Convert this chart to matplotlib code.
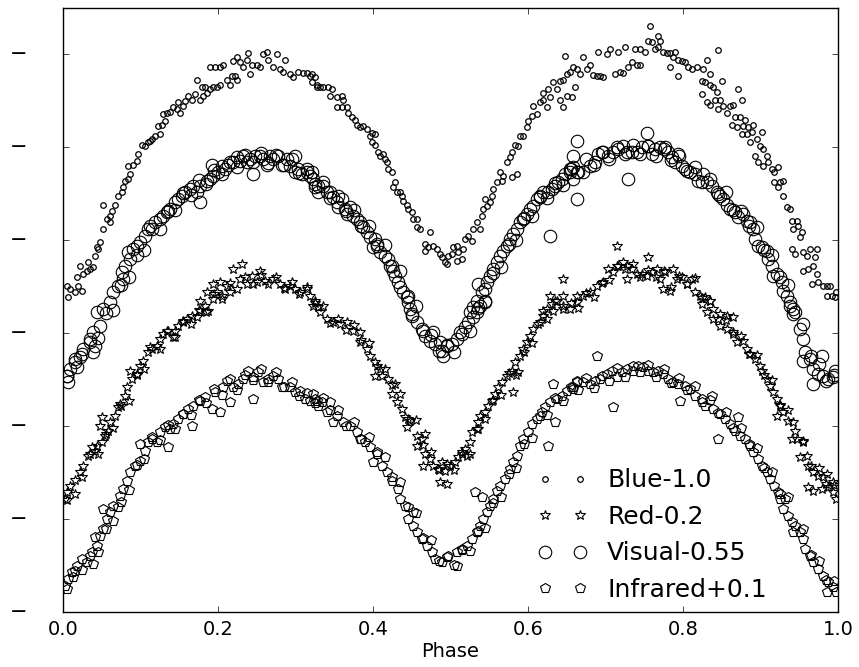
import numpy as np
import matplotlib
matplotlib.use("Agg")
from matplotlib import pyplot as plt
from matplotlib.ticker import FormatStrFormatter

# (phase, shifted magnitude)
blue = [
    (0.005, 0.499), (0.009, 0.505), (0.015, 0.512), (0.019, 0.499), (0.006, 0.522), (0.025, 0.510), (0.018, 0.479), (0.022, 0.456),
    (0.026, 0.473), (0.031, 0.467), (0.035, 0.462), (0.039, 0.458), (0.032, 0.447), (0.041, 0.434), (0.045, 0.419), (0.048, 0.404),
    (0.044, 0.415), (0.052, 0.376), (0.057, 0.355), (0.061, 0.348), (0.063, 0.338), (0.061, 0.361), (0.052, 0.323), (0.067, 0.323),
    (0.071, 0.305), (0.076, 0.297), (0.077, 0.286), (0.080, 0.273), (0.084, 0.269), (0.086, 0.258), (0.084, 0.241), (0.090, 0.237),
    (0.095, 0.230), (0.097, 0.215), (0.102, 0.194), (0.106, 0.198), (0.110, 0.189), (0.112, 0.187), (0.115, 0.183), (0.119, 0.176),
    (0.125, 0.172), (0.123, 0.155), (0.128, 0.151), (0.132, 0.144), (0.129, 0.129), (0.134, 0.125), (0.138, 0.123), (0.142, 0.114),
    (0.147, 0.118), (0.151, 0.125), (0.148, 0.103), (0.155, 0.112), (0.157, 0.101), (0.161, 0.090), (0.166, 0.097), (0.170, 0.086),
    (0.173, 0.054), (0.177, 0.097), (0.181, 0.090), (0.186, 0.082), (0.179, 0.071), (0.183, 0.069), (0.190, 0.075), (0.194, 0.069),
    (0.199, 0.071), (0.203, 0.065), (0.190, 0.028), (0.196, 0.028), (0.203, 0.028), (0.206, 0.022), (0.212, 0.054), (0.215, 0.065),
    (0.218, 0.047), (0.222, 0.047), (0.224, 0.054), (0.219, 0.015), (0.224, 0.006), (0.228, 0.017), (0.232, 0.026), (0.237, 0.011),
    (0.239, -0.004), (0.241, 0.043), (0.244, 0.022), (0.250, 0.022), (0.254, 0.026), (0.258, 0.000), (0.263, -0.006), (0.264, 0.011),
    (0.271, 0.026), (0.276, 0.000), (0.280, 0.032), (0.286, 0.011), (0.284, 0.037), (0.293, 0.043), (0.297, 0.049), (0.303, 0.037),
    (0.310, 0.039), (0.315, 0.039), (0.319, 0.047), (0.321, 0.060), (0.325, 0.049), (0.328, 0.069), (0.332, 0.069), (0.321, 0.043),
    (0.328, 0.065), (0.335, 0.069), (0.342, 0.071), (0.347, 0.075), (0.344, 0.090), (0.353, 0.092), (0.360, 0.090), (0.361, 0.097),
    (0.353, 0.114), (0.360, 0.114), (0.366, 0.114), (0.368, 0.125), (0.373, 0.135), (0.377, 0.140), (0.379, 0.151), (0.383, 0.157),
    (0.387, 0.155), (0.392, 0.161), (0.399, 0.168), (0.402, 0.172), (0.396, 0.176), (0.399, 0.189), (0.402, 0.194), (0.406, 0.209),
    (0.409, 0.219), (0.413, 0.215), (0.415, 0.226), (0.418, 0.232), (0.419, 0.247), (0.424, 0.254), (0.428, 0.275), (0.426, 0.286),
    (0.431, 0.295), (0.435, 0.297), (0.437, 0.305), (0.439, 0.316), (0.444, 0.323), (0.445, 0.333), (0.450, 0.340), (0.452, 0.355),
    (0.457, 0.355), (0.457, 0.372), (0.461, 0.376), (0.473, 0.383), (0.467, 0.409), (0.471, 0.415), (0.467, 0.424), (0.477, 0.413),
    (0.482, 0.419), (0.486, 0.430), (0.489, 0.436), (0.493, 0.447), (0.495, 0.452), (0.497, 0.434), (0.502, 0.430), (0.503, 0.415),
    (0.508, 0.413), (0.510, 0.426), (0.515, 0.441), (0.508, 0.445), (0.516, 0.419), (0.519, 0.398), (0.522, 0.391), (0.528, 0.402),
    (0.529, 0.376), (0.534, 0.361), (0.538, 0.376), (0.541, 0.348), (0.542, 0.333), (0.547, 0.327), (0.551, 0.318), (0.544, 0.312),
    (0.553, 0.305), (0.555, 0.290), (0.560, 0.275), (0.564, 0.254), (0.568, 0.262), (0.566, 0.273), (0.579, 0.264), (0.586, 0.258),
    (0.573, 0.232), (0.577, 0.221), (0.579, 0.211), (0.583, 0.194), (0.587, 0.198), (0.590, 0.176), (0.593, 0.176), (0.599, 0.157),
    (0.600, 0.144), (0.605, 0.133), (0.611, 0.129), (0.606, 0.112), (0.615, 0.103), (0.619, 0.097), (0.624, 0.114), (0.628, 0.092),
    (0.619, 0.082), (0.626, 0.075), (0.632, 0.060), (0.637, 0.075), (0.641, 0.058), (0.645, 0.054), (0.650, 0.043), (0.654, 0.037),
    (0.658, 0.028), (0.663, 0.032), (0.648, 0.004), (0.641, 0.097), (0.645, 0.114), (0.650, 0.090), (0.657, 0.092), (0.660, 0.071),
    (0.671, 0.006), (0.667, 0.043), (0.676, 0.032), (0.680, 0.022), (0.684, 0.045), (0.689, 0.047), (0.693, 0.047), (0.697, 0.049),
    (0.690, -0.006), (0.702, 0.000), (0.706, -0.011), (0.716, -0.006), (0.725, -0.017), (0.712, 0.043), (0.719, 0.037), (0.722, 0.039),
    (0.729, 0.026), (0.734, 0.017), (0.740, 0.022), (0.744, 0.022), (0.738, -0.011), (0.744, -0.011), (0.751, -0.006), (0.755, -0.028),
    (0.760, -0.026), (0.757, -0.062), (0.768, -0.039), (0.770, -0.028), (0.764, -0.011), (0.768, -0.015), (0.774, -0.006), (0.779, -0.004),
    (0.783, -0.004), (0.790, -0.006), (0.783, 0.026), (0.787, 0.006), (0.793, 0.011), (0.793, 0.047), (0.799, 0.015), (0.802, 0.017),
    (0.806, 0.026), (0.811, 0.032), (0.818, 0.026), (0.845, -0.009), (0.831, 0.011), (0.826, 0.032), (0.835, 0.043), (0.824, 0.058),
    (0.828, 0.060), (0.835, 0.065), (0.839, 0.069), (0.850, 0.058), (0.844, 0.080), (0.824, 0.086), (0.831, 0.103), (0.835, 0.108),
    (0.841, 0.097), (0.848, 0.097), (0.845, 0.118), (0.851, 0.112), (0.857, 0.125), (0.860, 0.112), (0.864, 0.108), (0.871, 0.075),
    (0.876, 0.097), (0.867, 0.135), (0.873, 0.135), (0.880, 0.140), (0.863, 0.151), (0.869, 0.157), (0.877, 0.155), (0.884, 0.157),
    (0.890, 0.151), (0.876, 0.172), (0.882, 0.172), (0.889, 0.166), (0.886, 0.189), (0.895, 0.183), (0.902, 0.166), (0.899, 0.198),
    (0.903, 0.204), (0.908, 0.219), (0.893, 0.219), (0.897, 0.232), (0.903, 0.241), (0.909, 0.232), (0.915, 0.247), (0.918, 0.252),
    (0.922, 0.243), (0.918, 0.275), (0.925, 0.275), (0.929, 0.273), (0.922, 0.286), (0.929, 0.305), (0.934, 0.329), (0.938, 0.333),
    (0.940, 0.359), (0.947, 0.359), (0.942, 0.376), (0.948, 0.370), (0.953, 0.383), (0.951, 0.393), (0.940, 0.419), (0.944, 0.430),
    (0.955, 0.426), (0.960, 0.434), (0.964, 0.419), (0.973, 0.419), (0.970, 0.436), (0.955, 0.467), (0.961, 0.462), (0.968, 0.456),
    (0.973, 0.473), (0.966, 0.495), (0.974, 0.490), (0.980, 0.499), (0.986, 0.499), (0.989, 0.499), (0.986, 0.520), (0.992, 0.520),
    (0.998, 0.512), (0.996, 0.522),
]

red = [
    (0.005, 0.942), (0.009, 0.929), (0.003, 0.957), (0.015, 0.946), (0.022, 0.899), (0.026, 0.886), (0.032, 0.864), (0.037, 0.845),
    (0.041, 0.854), (0.044, 0.843), (0.050, 0.834), (0.054, 0.821), (0.048, 0.800), (0.050, 0.780), (0.058, 0.811), (0.061, 0.791),
    (0.067, 0.778), (0.071, 0.759), (0.074, 0.753), (0.080, 0.735), (0.083, 0.716), (0.089, 0.699), (0.086, 0.682), (0.095, 0.688),
    (0.099, 0.671), (0.103, 0.660), (0.110, 0.641), (0.112, 0.630), (0.121, 0.628), (0.125, 0.613), (0.129, 0.602), (0.134, 0.596),
    (0.142, 0.608), (0.144, 0.596), (0.148, 0.585), (0.155, 0.576), (0.160, 0.570), (0.166, 0.563), (0.173, 0.565), (0.177, 0.553),
    (0.183, 0.542), (0.187, 0.553), (0.194, 0.527), (0.205, 0.527), (0.177, 0.531), (0.186, 0.512), (0.194, 0.495), (0.203, 0.490),
    (0.212, 0.499), (0.219, 0.462), (0.231, 0.452), (0.228, 0.484), (0.237, 0.495), (0.244, 0.477), (0.254, 0.467), (0.250, 0.490),
    (0.261, 0.488), (0.271, 0.484), (0.280, 0.495), (0.286, 0.505), (0.293, 0.499), (0.299, 0.505), (0.306, 0.512), (0.315, 0.505),
    (0.319, 0.520), (0.325, 0.531), (0.329, 0.544), (0.215, 0.512), (0.199, 0.512), (0.323, 0.542), (0.332, 0.555), (0.341, 0.570),
    (0.348, 0.576), (0.357, 0.581), (0.366, 0.576), (0.374, 0.596), (0.383, 0.598), (0.383, 0.619), (0.392, 0.634), (0.396, 0.649),
    (0.402, 0.662), (0.409, 0.677), (0.402, 0.692), (0.412, 0.692), (0.419, 0.699), (0.428, 0.710), (0.424, 0.731), (0.431, 0.748),
    (0.437, 0.763), (0.441, 0.780), (0.448, 0.789), (0.444, 0.802), (0.457, 0.821), (0.463, 0.828), (0.467, 0.817), (0.457, 0.843),
    (0.467, 0.860), (0.473, 0.871), (0.464, 0.886), (0.477, 0.886), (0.484, 0.892), (0.489, 0.877), (0.493, 0.897), (0.486, 0.920),
    (0.495, 0.925), (0.499, 0.886), (0.506, 0.877), (0.510, 0.866), (0.515, 0.856), (0.519, 0.849), (0.521, 0.864), (0.525, 0.834),
    (0.528, 0.813), (0.534, 0.806), (0.535, 0.791), (0.538, 0.778), (0.544, 0.770), (0.548, 0.757), (0.553, 0.746), (0.557, 0.731),
    (0.561, 0.716), (0.566, 0.705), (0.573, 0.692), (0.579, 0.682), (0.581, 0.727), (0.587, 0.684), (0.583, 0.662), (0.590, 0.649),
    (0.593, 0.634), (0.599, 0.619), (0.602, 0.606), (0.606, 0.591), (0.613, 0.581), (0.619, 0.563), (0.624, 0.548), (0.631, 0.538),
    (0.637, 0.531), (0.645, 0.542), (0.654, 0.548), (0.663, 0.533), (0.645, 0.484), (0.628, 0.520), (0.645, 0.520), (0.619, 0.553),
    (0.632, 0.553), (0.715, 0.413), (0.755, 0.436), (0.663, 0.520), (0.671, 0.520), (0.680, 0.512), (0.689, 0.499), (0.697, 0.490),
    (0.703, 0.462), (0.710, 0.469), (0.716, 0.456), (0.722, 0.447), (0.728, 0.456), (0.734, 0.462), (0.728, 0.484), (0.740, 0.473),
    (0.747, 0.473), (0.753, 0.477), (0.760, 0.469), (0.766, 0.462), (0.770, 0.484), (0.777, 0.469), (0.774, 0.505), (0.783, 0.510),
    (0.787, 0.462), (0.792, 0.484), (0.799, 0.479), (0.805, 0.495), (0.811, 0.484), (0.815, 0.512), (0.822, 0.520), (0.828, 0.522),
    (0.835, 0.531), (0.839, 0.548), (0.848, 0.559), (0.857, 0.563), (0.864, 0.565), (0.824, 0.538), (0.831, 0.555), (0.839, 0.570),
    (0.848, 0.585), (0.857, 0.591), (0.864, 0.598), (0.869, 0.619), (0.877, 0.617), (0.882, 0.634), (0.886, 0.645), (0.893, 0.656),
    (0.899, 0.671), (0.902, 0.682), (0.908, 0.699), (0.912, 0.714), (0.916, 0.727), (0.921, 0.742), (0.925, 0.757), (0.921, 0.778),
    (0.929, 0.770), (0.935, 0.789), (0.942, 0.791), (0.940, 0.828), (0.947, 0.828), (0.955, 0.834), (0.951, 0.866), (0.960, 0.864),
    (0.961, 0.886), (0.968, 0.899), (0.974, 0.907), (0.980, 0.909), (0.986, 0.903), (0.961, 0.931), (0.968, 0.940), (0.979, 0.935),
    (0.987, 0.931), (0.993, 0.942), (0.998, 0.957), (0.993, 0.920),
]

# overlapping points inside the crowded part of the red band
red_band = [
    (0.005, 0.960), (0.015, 0.916), (0.025, 0.910), (0.035, 0.861), (0.045, 0.860), (0.055, 0.816), (0.065, 0.805), (0.075, 0.756),
    (0.085, 0.745), (0.095, 0.691), (0.105, 0.678), (0.115, 0.633), (0.125, 0.635), (0.135, 0.596), (0.145, 0.608), (0.155, 0.573),
    (0.165, 0.580), (0.175, 0.551), (0.185, 0.555), (0.195, 0.516), (0.205, 0.520), (0.215, 0.491), (0.225, 0.505), (0.235, 0.479),
    (0.245, 0.495), (0.255, 0.474), (0.265, 0.495), (0.275, 0.478), (0.285, 0.502), (0.295, 0.489), (0.305, 0.515), (0.315, 0.501),
    (0.325, 0.535), (0.335, 0.541), (0.345, 0.578), (0.355, 0.569), (0.365, 0.592), (0.375, 0.583), (0.385, 0.615), (0.395, 0.621),
    (0.405, 0.670), (0.415, 0.676), (0.425, 0.712), (0.435, 0.731), (0.445, 0.785), (0.455, 0.786), (0.465, 0.840), (0.475, 0.856),
    (0.485, 0.895), (0.495, 0.881), (0.505, 0.895), (0.515, 0.859), (0.525, 0.860), (0.535, 0.806), (0.545, 0.785), (0.555, 0.743),
    (0.565, 0.732), (0.575, 0.686), (0.585, 0.690), (0.595, 0.641), (0.605, 0.620), (0.615, 0.576), (0.625, 0.570), (0.635, 0.531),
    (0.645, 0.548), (0.655, 0.536), (0.665, 0.545), (0.675, 0.513), (0.685, 0.522), (0.695, 0.491), (0.705, 0.485), (0.715, 0.456),
    (0.725, 0.462), (0.735, 0.451), (0.745, 0.480), (0.755, 0.464), (0.765, 0.478), (0.775, 0.466), (0.785, 0.500), (0.795, 0.476),
    (0.805, 0.495), (0.815, 0.481), (0.825, 0.525), (0.835, 0.531), (0.845, 0.570), (0.855, 0.571), (0.865, 0.602), (0.875, 0.606),
    (0.885, 0.645), (0.895, 0.646), (0.905, 0.690), (0.915, 0.701), (0.925, 0.755), (0.935, 0.766), (0.945, 0.810), (0.955, 0.831),
    (0.965, 0.885), (0.975, 0.891), (0.985, 0.925), (0.995, 0.926),
]

visual = [
    (0.044, 0.555), (0.048, 0.585), (0.039, 0.598), (0.035, 0.619), (0.026, 0.634), (0.022, 0.651), (0.015, 0.662), (0.009, 0.677),
    (0.005, 0.692), (0.006, 0.705), (0.018, 0.673), (0.039, 0.641), (0.041, 0.628), (0.052, 0.548), (0.061, 0.533), (0.065, 0.512),
    (0.071, 0.499), (0.077, 0.484), (0.076, 0.469), (0.080, 0.456), (0.086, 0.441), (0.084, 0.426), (0.090, 0.419), (0.095, 0.413),
    (0.099, 0.404), (0.106, 0.391), (0.110, 0.376), (0.112, 0.370), (0.119, 0.361), (0.125, 0.355), (0.129, 0.348), (0.134, 0.340),
    (0.138, 0.333), (0.144, 0.318), (0.148, 0.312), (0.154, 0.305), (0.157, 0.297), (0.164, 0.290), (0.168, 0.284), (0.177, 0.318),
    (0.173, 0.297), (0.177, 0.284), (0.186, 0.273), (0.190, 0.269), (0.194, 0.262), (0.200, 0.254), (0.192, 0.237), (0.205, 0.241),
    (0.209, 0.247), (0.213, 0.237), (0.219, 0.232), (0.224, 0.221), (0.228, 0.230), (0.232, 0.219), (0.237, 0.232), (0.241, 0.226),
    (0.245, 0.258), (0.248, 0.219), (0.254, 0.219), (0.258, 0.226), (0.263, 0.237), (0.267, 0.219), (0.271, 0.226), (0.277, 0.219),
    (0.283, 0.237), (0.289, 0.226), (0.293, 0.241), (0.299, 0.219), (0.299, 0.252), (0.303, 0.247), (0.308, 0.258), (0.315, 0.254),
    (0.319, 0.262), (0.323, 0.269), (0.325, 0.286), (0.329, 0.284), (0.329, 0.297), (0.321, 0.254), (0.335, 0.284), (0.341, 0.295),
    (0.344, 0.297), (0.348, 0.307), (0.353, 0.318), (0.355, 0.329), (0.360, 0.312), (0.364, 0.333), (0.366, 0.344), (0.370, 0.329),
    (0.374, 0.348), (0.379, 0.355), (0.383, 0.361), (0.387, 0.372), (0.392, 0.383), (0.396, 0.393), (0.402, 0.398), (0.400, 0.415),
    (0.405, 0.413), (0.409, 0.426), (0.415, 0.434), (0.419, 0.441), (0.422, 0.456), (0.426, 0.467), (0.428, 0.477), (0.432, 0.490),
    (0.435, 0.501), (0.439, 0.512), (0.444, 0.522), (0.445, 0.533), (0.448, 0.548), (0.450, 0.559), (0.450, 0.563), (0.457, 0.576),
    (0.463, 0.591), (0.467, 0.606), (0.473, 0.617), (0.480, 0.624), (0.489, 0.639), (0.490, 0.649), (0.495, 0.628), (0.502, 0.624),
    (0.508, 0.613), (0.512, 0.598), (0.519, 0.587), (0.522, 0.576), (0.529, 0.565), (0.534, 0.555), (0.538, 0.542), (0.544, 0.533),
    (0.477, 0.598), (0.486, 0.619), (0.525, 0.555), (0.529, 0.544), (0.534, 0.531), (0.535, 0.495), (0.541, 0.512), (0.544, 0.505),
    (0.547, 0.490), (0.551, 0.477), (0.555, 0.462), (0.560, 0.447), (0.564, 0.434), (0.568, 0.424), (0.573, 0.413), (0.577, 0.398),
    (0.581, 0.387), (0.586, 0.376), (0.590, 0.361), (0.593, 0.355), (0.599, 0.344), (0.602, 0.333), (0.606, 0.327), (0.611, 0.312),
    (0.615, 0.305), (0.619, 0.297), (0.626, 0.295), (0.631, 0.290), (0.635, 0.284), (0.639, 0.275), (0.644, 0.269), (0.648, 0.258),
    (0.654, 0.252), (0.658, 0.243), (0.628, 0.391), (0.663, 0.312), (0.658, 0.219), (0.663, 0.187), (0.654, 0.247), (0.658, 0.269),
    (0.663, 0.252), (0.671, 0.252), (0.680, 0.241), (0.686, 0.232), (0.690, 0.215), (0.697, 0.211), (0.703, 0.219), (0.710, 0.209),
    (0.716, 0.204), (0.722, 0.198), (0.728, 0.211), (0.734, 0.209), (0.740, 0.209), (0.747, 0.200), (0.753, 0.168), (0.755, 0.198),
    (0.760, 0.215), (0.764, 0.204), (0.770, 0.200), (0.777, 0.200), (0.780, 0.211), (0.786, 0.221), (0.790, 0.232), (0.793, 0.215),
    (0.799, 0.241), (0.802, 0.247), (0.809, 0.252), (0.815, 0.258), (0.819, 0.273), (0.826, 0.258), (0.831, 0.275), (0.837, 0.284),
    (0.844, 0.295), (0.848, 0.305), (0.851, 0.312), (0.857, 0.323), (0.860, 0.333), (0.867, 0.340), (0.871, 0.350), (0.877, 0.344),
    (0.882, 0.359), (0.886, 0.361), (0.890, 0.376), (0.893, 0.398), (0.897, 0.413), (0.902, 0.415), (0.908, 0.424), (0.909, 0.441),
    (0.915, 0.456), (0.916, 0.477), (0.921, 0.473), (0.928, 0.490), (0.929, 0.510), (0.934, 0.520), (0.938, 0.533), (0.942, 0.548),
    (0.729, 0.269), (0.938, 0.542), (0.942, 0.559), (0.951, 0.591), (0.955, 0.613), (0.957, 0.641), (0.964, 0.656), (0.968, 0.677),
    (0.974, 0.688), (0.980, 0.692), (0.987, 0.699), (0.993, 0.694), (0.996, 0.682), (0.968, 0.710), (0.955, 0.660), (0.979, 0.649),
]

visual_band = [
    (0.005, 0.692), (0.015, 0.655), (0.025, 0.645), (0.035, 0.612), (0.045, 0.610), (0.055, 0.556), (0.065, 0.550), (0.075, 0.496),
    (0.085, 0.480), (0.095, 0.431), (0.105, 0.420), (0.115, 0.376), (0.125, 0.375), (0.135, 0.336), (0.145, 0.335), (0.155, 0.299),
    (0.165, 0.302), (0.175, 0.271), (0.185, 0.278), (0.195, 0.249), (0.205, 0.258), (0.215, 0.231), (0.225, 0.242), (0.235, 0.217),
    (0.245, 0.232), (0.255, 0.213), (0.265, 0.233), (0.275, 0.216), (0.285, 0.238), (0.295, 0.226), (0.305, 0.255), (0.315, 0.247),
    (0.325, 0.278), (0.335, 0.274), (0.345, 0.308), (0.355, 0.304), (0.365, 0.338), (0.375, 0.334), (0.385, 0.370), (0.395, 0.369),
    (0.405, 0.408), (0.415, 0.411), (0.425, 0.455), (0.435, 0.466), (0.445, 0.520), (0.455, 0.541), (0.465, 0.595), (0.475, 0.603),
    (0.485, 0.638), (0.495, 0.626), (0.505, 0.640), (0.515, 0.601), (0.525, 0.595), (0.535, 0.546), (0.545, 0.530), (0.555, 0.471),
    (0.565, 0.457), (0.575, 0.409), (0.585, 0.400), (0.595, 0.353), (0.605, 0.348), (0.615, 0.306), (0.625, 0.308), (0.635, 0.276),
    (0.645, 0.280), (0.655, 0.246), (0.665, 0.253), (0.675, 0.226), (0.685, 0.237), (0.695, 0.211), (0.705, 0.224), (0.715, 0.200),
    (0.725, 0.215), (0.735, 0.195), (0.745, 0.215), (0.755, 0.196), (0.765, 0.218), (0.775, 0.203), (0.785, 0.228), (0.795, 0.219),
    (0.805, 0.250), (0.815, 0.243), (0.825, 0.275), (0.835, 0.268), (0.845, 0.300), (0.855, 0.297), (0.865, 0.335), (0.875, 0.336),
    (0.885, 0.370), (0.895, 0.371), (0.905, 0.420), (0.915, 0.431), (0.925, 0.480), (0.935, 0.496), (0.945, 0.555), (0.955, 0.581),
    (0.965, 0.650), (0.975, 0.666), (0.985, 0.702), (0.995, 0.691),
]

infrared = [
    (0.003, 1.144), (0.006, 1.129), (0.012, 1.114), (0.018, 1.101), (0.013, 1.124), (0.025, 1.086), (0.031, 1.092), (0.039, 1.097),
    (0.037, 1.071), (0.044, 1.058), (0.048, 1.036), (0.041, 1.038), (0.052, 1.021), (0.057, 1.000), (0.052, 0.978), (0.061, 0.985),
    (0.065, 0.972), (0.071, 0.974), (0.074, 0.950), (0.077, 0.935), (0.083, 0.918), (0.086, 0.899), (0.093, 0.886), (0.099, 0.875),
    (0.099, 0.839), (0.106, 0.854), (0.110, 0.834), (0.115, 0.823), (0.121, 0.834), (0.125, 0.813), (0.135, 0.845), (0.132, 0.802),
    (0.138, 0.806), (0.142, 0.796), (0.148, 0.785), (0.155, 0.774), (0.161, 0.763), (0.166, 0.800), (0.168, 0.757), (0.177, 0.746),
    (0.183, 0.737), (0.192, 0.763), (0.203, 0.770), (0.196, 0.727), (0.206, 0.716), (0.212, 0.703), (0.215, 0.748), (0.219, 0.716),
    (0.226, 0.710), (0.232, 0.699), (0.239, 0.682), (0.245, 0.742), (0.245, 0.694), (0.252, 0.684), (0.258, 0.705), (0.264, 0.699),
    (0.271, 0.692), (0.277, 0.699), (0.283, 0.716), (0.293, 0.716), (0.299, 0.727), (0.306, 0.725), (0.312, 0.742), (0.319, 0.746),
    (0.325, 0.742), (0.329, 0.757), (0.323, 0.731), (0.328, 0.746), (0.334, 0.748), (0.344, 0.748), (0.348, 0.791), (0.341, 0.770),
    (0.353, 0.778), (0.361, 0.791), (0.370, 0.800), (0.379, 0.813), (0.383, 0.828), (0.390, 0.834), (0.396, 0.845), (0.405, 0.856),
    (0.400, 0.877), (0.412, 0.886), (0.418, 0.899), (0.424, 0.918), (0.432, 0.935), (0.435, 0.957), (0.441, 0.972), (0.452, 0.985),
    (0.445, 1.000), (0.452, 1.015), (0.457, 1.028), (0.463, 1.043), (0.470, 1.058), (0.476, 1.071), (0.480, 1.086), (0.489, 1.092),
    (0.497, 1.079), (0.508, 1.101), (0.508, 1.071), (0.515, 1.064), (0.521, 1.058), (0.528, 1.043), (0.534, 1.028), (0.532, 0.942),
    (0.541, 0.952), (0.538, 1.015), (0.542, 1.000), (0.547, 0.985), (0.551, 0.972), (0.555, 0.957), (0.560, 0.940), (0.564, 0.929),
    (0.570, 0.914), (0.577, 0.892), (0.581, 0.877), (0.586, 0.864), (0.590, 0.843), (0.593, 0.828), (0.600, 0.813), (0.605, 0.796),
    (0.611, 0.785), (0.618, 0.770), (0.622, 0.759), (0.626, 0.843), (0.635, 0.791), (0.628, 0.748), (0.637, 0.742), (0.644, 0.735),
    (0.650, 0.725), (0.658, 0.716), (0.663, 0.703), (0.632, 0.710), (0.689, 0.649), (0.658, 0.720), (0.663, 0.705), (0.671, 0.705),
    (0.680, 0.710), (0.686, 0.703), (0.693, 0.699), (0.702, 0.688), (0.708, 0.682), (0.715, 0.694), (0.710, 0.759), (0.721, 0.684),
    (0.728, 0.677), (0.735, 0.682), (0.742, 0.671), (0.748, 0.673), (0.755, 0.682), (0.761, 0.684), (0.768, 0.682), (0.774, 0.688),
    (0.780, 0.699), (0.787, 0.705), (0.796, 0.746), (0.793, 0.710), (0.802, 0.714), (0.809, 0.720), (0.815, 0.735), (0.824, 0.742),
    (0.828, 0.757), (0.837, 0.735), (0.845, 0.828), (0.839, 0.763), (0.848, 0.774), (0.854, 0.785), (0.860, 0.796), (0.867, 0.811),
    (0.871, 0.780), (0.873, 0.821), (0.880, 0.828), (0.886, 0.843), (0.890, 0.856), (0.897, 0.871), (0.902, 0.886), (0.908, 0.899),
    (0.912, 0.914), (0.918, 0.929), (0.922, 0.942), (0.925, 0.957), (0.932, 0.957), (0.929, 0.978), (0.935, 0.993), (0.940, 1.006),
    (0.942, 1.028), (0.951, 1.028), (0.955, 1.043), (0.957, 1.064), (0.964, 1.079), (0.968, 1.092), (0.974, 1.107), (0.980, 1.122),
    (0.987, 1.135), (0.993, 1.146), (0.998, 1.157), (0.986, 1.157),
]

infrared_band = [
    (0.005, 1.150), (0.015, 1.111), (0.025, 1.110), (0.035, 1.079), (0.045, 1.070), (0.055, 1.021), (0.065, 1.005), (0.075, 0.963),
    (0.085, 0.938), (0.095, 0.883), (0.105, 0.870), (0.115, 0.827), (0.125, 0.830), (0.135, 0.797), (0.145, 0.807), (0.155, 0.773),
    (0.165, 0.776), (0.175, 0.743), (0.185, 0.750), (0.195, 0.721), (0.205, 0.732), (0.215, 0.699), (0.225, 0.722), (0.235, 0.691),
    (0.245, 0.700), (0.255, 0.677), (0.265, 0.705), (0.275, 0.684), (0.285, 0.715), (0.295, 0.705), (0.305, 0.735), (0.315, 0.729),
    (0.325, 0.750), (0.335, 0.739), (0.345, 0.765), (0.355, 0.766), (0.365, 0.800), (0.375, 0.791), (0.385, 0.828), (0.395, 0.823),
    (0.405, 0.860), (0.415, 0.866), (0.425, 0.910), (0.435, 0.921), (0.445, 0.975), (0.455, 0.986), (0.465, 1.040), (0.475, 1.046),
    (0.485, 1.090), (0.495, 1.081), (0.505, 1.098), (0.515, 1.066), (0.525, 1.068), (0.535, 1.026), (0.545, 1.020), (0.555, 0.966),
    (0.565, 0.952), (0.575, 0.903), (0.585, 0.890), (0.595, 0.839), (0.605, 0.825), (0.615, 0.779), (0.625, 0.775), (0.635, 0.739),
    (0.645, 0.745), (0.655, 0.716), (0.665, 0.722), (0.675, 0.696), (0.685, 0.718), (0.695, 0.693), (0.705, 0.702), (0.715, 0.675),
    (0.725, 0.694), (0.735, 0.671), (0.745, 0.683), (0.755, 0.669), (0.765, 0.694), (0.775, 0.677), (0.785, 0.708), (0.795, 0.697),
    (0.805, 0.722), (0.815, 0.713), (0.825, 0.748), (0.835, 0.743), (0.845, 0.772), (0.855, 0.769), (0.865, 0.805), (0.875, 0.803),
    (0.885, 0.838), (0.895, 0.846), (0.905, 0.890), (0.915, 0.899), (0.925, 0.945), (0.935, 0.953), (0.945, 1.015), (0.955, 1.021),
    (0.965, 1.078), (0.975, 1.091), (0.985, 1.132), (0.995, 1.133),
]

series = [
    ("Blue-1.0", blue, "o", 4, 0.9),
    ("Red-0.2", red + red_band, "*", 7.5, 0.8),
    ("Visual-0.55", visual + visual_band, "o", 9, 0.8),
    ("Infrared+0.1", infrared + infrared_band, "p", 7.5, 0.8),
]

plt.style.use("classic")
fig = plt.figure(figsize=(8.59, 6.67), dpi=100, facecolor="white")
ax = fig.add_axes([0.0733, 0.0825, 0.9023, 0.9055])

for label, pts, marker, ms, mew in series:
    phase, mag = np.array(pts).T
    ax.plot(phase, mag, marker, ms=ms, mfc="none", mec="k", mew=mew, label=label)

ax.set_xlim(0, 1)
ax.set_ylim(1.2, -0.1)
ax.set_yticks(np.arange(0, 1.21, 0.2))
ax.set_yticklabels(["\u2212"] * 7, fontsize=15)
ax.tick_params(axis="y", pad=26)
ax.xaxis.set_major_formatter(FormatStrFormatter("%.1f"))
ax.tick_params(axis="x", labelsize=14, pad=6)
ax.set_xlabel("Phase", fontsize=14, labelpad=2)

ax.legend(loc="lower left", bbox_to_anchor=(0.599, 0.0), borderaxespad=0,
          frameon=False, fontsize=18, numpoints=2)

fig.savefig("out.png", dpi=100, facecolor="white")
